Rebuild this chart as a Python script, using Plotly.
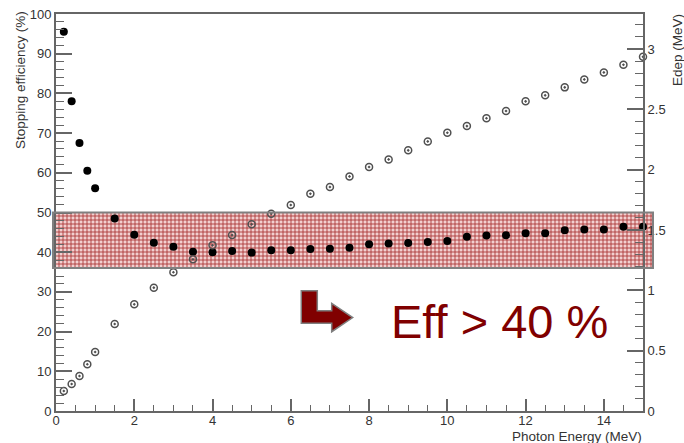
import plotly.graph_objects as go

# Photon energy scan (MeV)
energy = [0.2, 0.4, 0.6, 0.8, 1.0, 1.5, 2.0, 2.5, 3.0, 3.5, 4.0, 4.5, 5.0, 5.5,
          6.0, 6.5, 7.0, 7.5, 8.0, 8.5, 9.0, 9.5, 10.0, 10.5, 11.0, 11.5, 12.0,
          12.5, 13.0, 13.5, 14.0, 14.5, 15.0]

# Stopping efficiency (%), left axis
efficiency = [95.5, 78.0, 67.5, 60.5, 56.1, 48.5, 44.4, 42.4, 41.4, 40.1, 40.0,
              40.3, 39.9, 40.5, 40.5, 40.8, 40.9, 41.1, 42.0, 42.2, 42.3, 42.6,
              42.8, 43.9, 44.2, 44.3, 44.8, 44.8, 45.5, 45.7, 45.7, 46.4, 46.4]

# Deposited energy (MeV), right axis
edep = [0.166, 0.224, 0.29, 0.387, 0.489, 0.721, 0.884, 1.022, 1.150, 1.257,
        1.373, 1.458, 1.547, 1.635, 1.707, 1.80, 1.856, 1.944, 2.022, 2.085,
        2.160, 2.234, 2.306, 2.361, 2.426, 2.486, 2.566, 2.616, 2.682, 2.748,
        2.806, 2.869, 2.935]

# Highlighted efficiency band (%)
band_low, band_high = 36, 50
callout = "Eff > 40 %"

W, H = 684, 443
ML, MR, MT, MB = 53, 31, 14, 32
PW, PH = W - ML - MR, H - MT - MB


def px(xp):
    return (xp - ML) / PW


def py(yp):
    return (H - MB - yp) / PH


FONT = "Liberation Sans, Arial, Helvetica, sans-serif"
AX = "#666666"
TXT = "#333333"

fig = go.Figure()

# hatched band, drawn in a full-width helper subplot underneath the data
fig.add_trace(go.Scatter(
    x=[0, 1, 1, 0, 0], y=[band_low, band_low, band_high, band_high, band_low],
    xaxis="x", yaxis="y", mode="lines", line=dict(width=0),
    fill="toself", fillcolor="rgba(0,0,0,0)",
    fillpattern=dict(shape="+", size=4, solidity=0.38,
                     fgcolor="#a83232", bgcolor="#f2d0d0", fillmode="replace"),
    hoverinfo="skip", showlegend=False))

fig.add_trace(go.Scatter(
    x=energy, y=efficiency, xaxis="x2", yaxis="y2", mode="markers",
    marker=dict(symbol="circle", size=8, color="black"),
    cliponaxis=False, showlegend=False))

fig.add_trace(go.Scatter(
    x=energy, y=edep, xaxis="x2", yaxis="y3", mode="markers",
    marker=dict(symbol="circle-open-dot", size=7, color="#505050",
                line=dict(width=1.5, color="#505050")),
    cliponaxis=False, showlegend=False))

tickfont = dict(family=FONT, size=13, color=TXT)

fig.update_layout(
    template="none",
    width=W, height=H,
    margin=dict(l=ML, r=MR, t=MT, b=MB, autoexpand=False),
    paper_bgcolor="white", plot_bgcolor="rgba(0,0,0,0)",
    xaxis=dict(domain=[0, 1], range=[0, 1], visible=False, fixedrange=True,
               automargin=False),
    yaxis=dict(domain=[0, 1], range=[0, 100], visible=False, fixedrange=True,
               automargin=False),
    xaxis2=dict(domain=[px(56), px(643)], range=[0, 15], anchor="y2",
                automargin=False,
                showline=True, linecolor=AX, linewidth=2, mirror=True,
                showgrid=False, zeroline=False,
                ticks="inside", ticklen=12, tickwidth=1.5, tickcolor=AX,
                dtick=2, tick0=0, tickfont=tickfont, ticklabelstandoff=-4,
                minor=dict(ticks="inside", ticklen=6, dtick=0.5,
                           tickwidth=1.2, tickcolor=AX)),
    yaxis2=dict(domain=[0, 1], range=[0, 100], anchor="x2", automargin=False,
                showline=True, linecolor=AX, linewidth=2,
                showgrid=False, zeroline=False,
                ticks="inside", ticklen=16, tickwidth=1.5, tickcolor=AX,
                dtick=10, tick0=0, tickfont=tickfont,
                minor=dict(ticks="inside", ticklen=8, dtick=2,
                           tickwidth=1.2, tickcolor=AX)),
    yaxis3=dict(range=[0, 3.29], overlaying="y2", side="right", anchor="x2",
                automargin=False,
                showline=True, linecolor=AX, linewidth=2,
                showgrid=False, zeroline=False,
                ticks="inside", ticklen=16, tickwidth=1.5, tickcolor=AX,
                dtick=0.5, tick0=0, tickfont=tickfont,
                minor=dict(ticks="inside", ticklen=8, dtick=0.1,
                           tickwidth=1.2, tickcolor=AX)),
)

# band outline
fig.add_shape(type="rect", xref="paper", yref="y2", x0=0, x1=1,
              y0=band_low, y1=band_high, line=dict(color="#808080", width=2),
              fillcolor="rgba(0,0,0,0)", layer="above")

# bent arrow pointing to the callout
arrow = [(301.3, 290.7), (317.3, 290.7), (317.3, 310.7), (331.7, 310.7),
         (331.7, 303.3), (352.7, 317.5), (331.7, 331.7), (331.7, 323.3),
         (301.3, 323.3)]
path = "M " + " L ".join(f"{px(a):.4f},{py(b):.4f}" for a, b in arrow) + " Z"
fig.add_shape(type="path", xref="paper", yref="paper", path=path,
              fillcolor="#800000", line=dict(color="#7f7f7f", width=1.5))

fig.add_annotation(text=callout, xref="paper", yref="paper",
                   x=px(389), y=py(321), xanchor="left", yanchor="middle",
                   showarrow=False,
                   font=dict(family=FONT, size=47, color="#800000"))

labfont = dict(family=FONT, size=13.5, color=TXT)
fig.add_annotation(text="Stopping efficiency (%)", xref="paper", yref="paper",
                   x=px(20), y=py(9), xanchor="center", yanchor="top",
                   textangle=-90, showarrow=False, font=labfont)
fig.add_annotation(text="Edep (MeV)", xref="paper", yref="paper",
                   x=px(677), y=py(12), xanchor="center", yanchor="top",
                   textangle=-90, showarrow=False, font=labfont)
fig.add_annotation(text="Photon Energy (MeV)", xref="paper", yref="paper",
                   x=px(644), y=py(436), xanchor="right", yanchor="middle",
                   showarrow=False, font=labfont)

fig.write_html("out.html")
